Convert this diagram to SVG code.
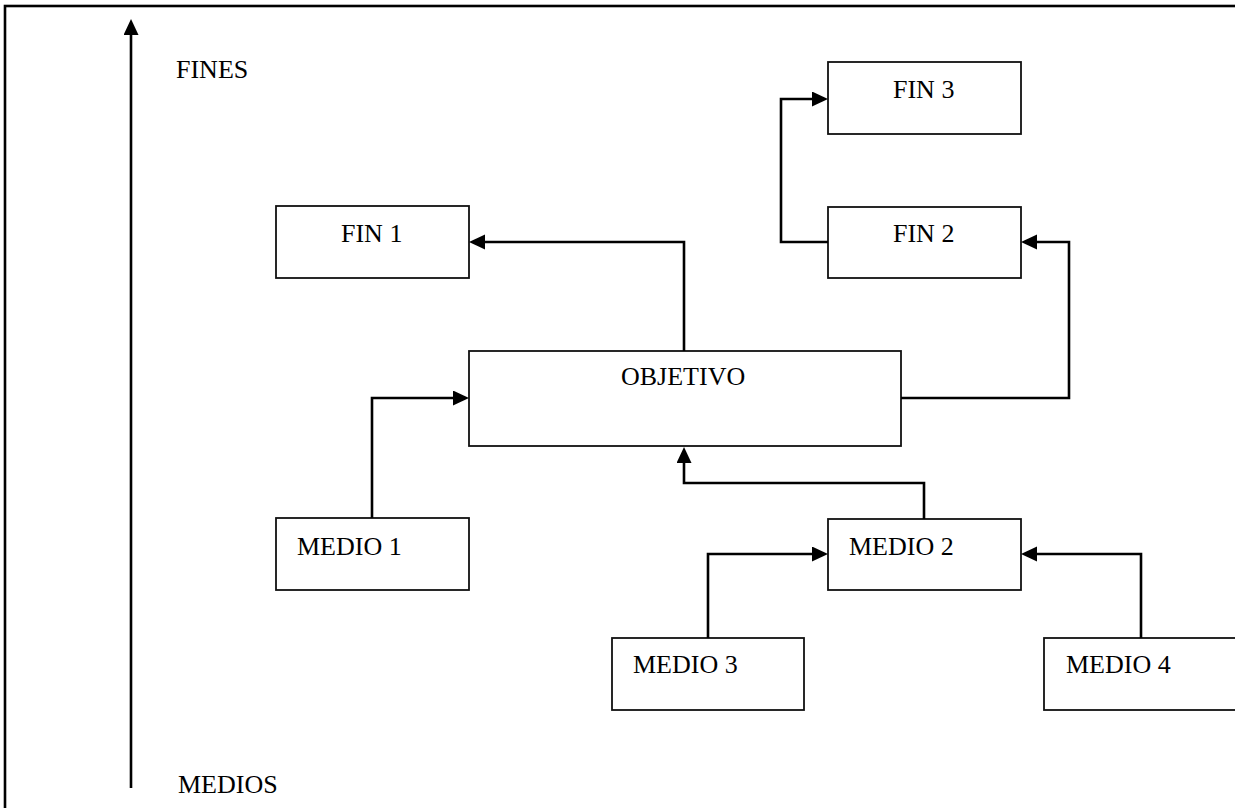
<svg xmlns="http://www.w3.org/2000/svg" width="1235" height="808" viewBox="0 0 1235 808">
  <defs>
    <!-- filled arrowhead; tip sits 4px beyond the path end -->
    <marker id="arrow" markerUnits="userSpaceOnUse" markerWidth="17" markerHeight="16" refX="12" refY="7.5" orient="auto">
      <path d="M0,0 L16,7.5 L0,15 z" fill="#000"/>
    </marker>
    <style>
      .box { fill: #fff; stroke: #111; stroke-width: 1.8; }
      .label { font-family: "Liberation Serif", "Times New Roman", serif; font-size: 26px; fill: #000; }
      .link { fill: none; stroke: #000; stroke-width: 2.6; marker-end: url(#arrow); }
    </style>
  </defs>

  <rect width="1235" height="808" fill="#fff"/>

  <!-- page frame (right and bottom edges run off the sheet) -->
  <rect x="5" y="6" width="1400" height="900" fill="none" stroke="#000" stroke-width="2.6"/>

  <!-- ends/means axis -->
  <g id="axis">
    <path class="link" d="M131 788 V23"/>
    <text class="label" x="176" y="78">FINES</text>
    <text class="label" x="178" y="793">MEDIOS</text>
  </g>

  <g id="fin1">
    <rect class="box" x="276" y="206" width="193" height="72"/>
    <text class="label" x="341" y="242">FIN 1</text>
  </g>

  <g id="fin2">
    <rect class="box" x="828" y="207" width="193" height="71"/>
    <text class="label" x="893" y="242">FIN 2</text>
  </g>

  <g id="fin3">
    <rect class="box" x="828" y="62" width="193" height="72"/>
    <text class="label" x="893" y="98">FIN 3</text>
  </g>

  <g id="objetivo">
    <rect class="box" x="469" y="351" width="432" height="95"/>
    <text class="label" x="621" y="385">OBJETIVO</text>
  </g>

  <g id="medio1">
    <rect class="box" x="276" y="518" width="193" height="72"/>
    <text class="label" x="297" y="555">MEDIO 1</text>
  </g>

  <g id="medio2">
    <rect class="box" x="828" y="519" width="193" height="71"/>
    <text class="label" x="849" y="555">MEDIO 2</text>
  </g>

  <g id="medio3">
    <rect class="box" x="612" y="638" width="192" height="72"/>
    <text class="label" x="633" y="673">MEDIO 3</text>
  </g>

  <g id="medio4">
    <!-- box continues past the sheet's right edge -->
    <rect class="box" x="1044" y="638" width="300" height="72"/>
    <text class="label" x="1066" y="673">MEDIO 4</text>
  </g>

  <g id="connectors">
    <path class="link" d="M684 351 V242 H473"/>
    <path class="link" d="M901 398 H1069 V242 H1025"/>
    <path class="link" d="M828 242 H781 V99 H824"/>
    <path class="link" d="M372 518 V398 H465"/>
    <path class="link" d="M924 519 V483 H684 V451"/>
    <path class="link" d="M708 638 V554 H824"/>
    <path class="link" d="M1141 638 V554 H1025"/>
  </g>
</svg>
